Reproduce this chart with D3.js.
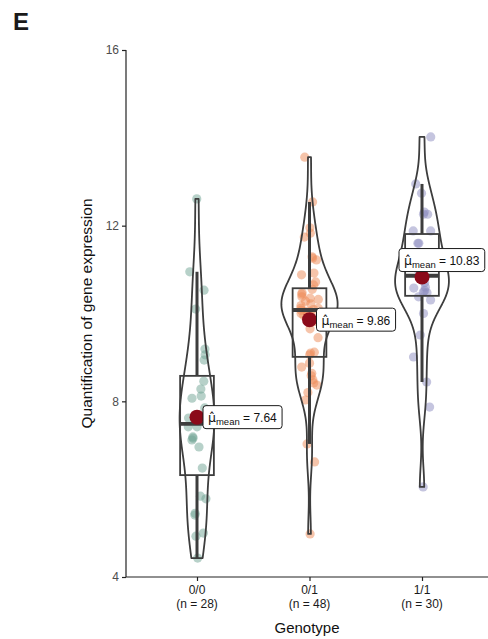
<!DOCTYPE html>
<html>
<head>
<meta charset="utf-8">
<script src="https://cdn.jsdelivr.net/npm/d3@7"></script>
<style>
  body { margin: 0; background: #fff; }
  svg { display: block; font-family: "Liberation Sans", Arial, sans-serif; }
</style>
</head>
<body>
<svg id="chart" width="488" height="639"></svg>
<script>
// Genotype groups and expression values per sample
const genotypes = ["0/0", "0/1", "1/1"];
const groupSizes = [28, 48, 30];

const expr00 = [12.61, 10.95, 10.53, 10.10, 9.19, 9.06, 8.94, 8.46, 8.28, 8.12, 8.07, 7.85,
  7.62, 7.55, 7.42, 7.42, 7.19, 7.16, 7.12, 6.96, 6.48, 5.84, 5.78, 5.45, 5.41, 5.00, 4.93, 4.43];

const expr01 = [13.56, 12.54, 11.95, 11.83, 11.74, 11.29, 11.26, 11.22, 10.92, 10.88, 10.72, 10.65,
  10.55, 10.47, 10.44, 10.38, 10.35, 10.32, 10.28, 10.22, 10.18, 10.12, 10.12, 10.09,
  10.07, 10.05, 10.04, 10.00, 9.95, 9.90, 9.82, 9.65, 9.45, 9.12, 9.10, 9.06,
  8.87, 8.78, 8.64, 8.58, 8.49, 8.42, 8.37, 8.20, 8.03, 7.03, 6.62, 4.98];

const expr11 = [14.02, 12.95, 12.74, 12.31, 12.26, 12.26, 11.88, 11.88,
  11.60, 11.60, 11.35, 11.25, 11.15, 11.00, 10.90, 10.82, 10.70, 10.60, 10.58, 10.52, 10.49, 10.47,
  10.38, 10.31, 10.00, 9.51, 9.01, 8.44, 7.87, 6.05];

const meanValues = [7.64, 9.86, 10.83];
const yTicks = [4, 8, 12, 16];
const pointColors = ["#6fa493", "#ee8a55", "#8c8cc0"];

const groups = [expr00, expr01, expr11];

const svg = d3.select("#chart");
const plotLeft = 126, plotRight = 488, plotTop = 50, plotBottom = 577;

const y = d3.scaleLinear().domain([4, 16]).range([plotBottom, plotTop]);
const x = d3.scalePoint().domain(genotypes).range([197, 422]);
const step = 112.5;

// Axis lines and ticks
const yAxis = d3.axisLeft(y).tickValues(yTicks).tickSize(4).tickPadding(3);
const gy = svg.append("g").attr("transform", `translate(${plotLeft},0)`).call(yAxis);
gy.select(".domain").remove();
gy.selectAll(".tick line").attr("stroke", "#222").attr("stroke-width", 1.2);
gy.selectAll(".tick text").attr("fill", "#4d4d4d").attr("font-size", 12)
  .attr("font-family", "Liberation Sans, Arial, sans-serif");
svg.append("line").attr("x1", plotLeft).attr("x2", plotLeft).attr("y1", plotTop).attr("y2", plotBottom)
  .attr("stroke", "#222").attr("stroke-width", 1.2);

const xAxis = d3.axisBottom(x).tickSize(4).tickFormat(() => "");
const gx = svg.append("g").attr("transform", `translate(0,${plotBottom})`).call(xAxis);
gx.select(".domain").remove();
gx.selectAll(".tick line").attr("stroke", "#222").attr("stroke-width", 1.2);
svg.append("line").attr("x1", plotLeft).attr("x2", plotRight).attr("y1", plotBottom).attr("y2", plotBottom)
  .attr("stroke", "#222").attr("stroke-width", 1.2);

genotypes.forEach((g, i) => {
  const t = svg.append("text").attr("x", x(g)).attr("text-anchor", "middle")
    .attr("font-size", 12).attr("fill", "#1a1a1a");
  t.append("tspan").attr("x", x(g)).attr("y", 594).text(g);
  t.append("tspan").attr("x", x(g)).attr("y", 608).text(`(n = ${groupSizes[i]})`);
});

// Axis titles and panel tag
svg.append("text").attr("x", (plotLeft + plotRight) / 2).attr("y", 633).attr("text-anchor", "middle")
  .attr("font-size", 15).attr("fill", "#111").text("Genotype");
svg.append("text").attr("transform", `translate(92,${(plotTop + plotBottom) / 2}) rotate(-90)`)
  .attr("text-anchor", "middle").attr("font-size", 15.5).attr("fill", "#111")
  .text("Quantification of gene expression");
svg.append("text").attr("x", 13).attr("y", 30).attr("font-size", 24).attr("font-weight", "bold")
  .attr("fill", "#1a1a1a").text("E");

// Statistics helpers
function nrd0(sorted) {
  const sd = d3.deviation(sorted);
  const iqr = d3.quantile(sorted, 0.75) - d3.quantile(sorted, 0.25);
  const lo = Math.min(sd, iqr / 1.34);
  return 0.9 * lo * Math.pow(sorted.length, -0.2);
}
function kde(sorted) {
  const bw = nrd0(sorted);
  const lo = sorted[0], hi = sorted[sorted.length - 1];
  const n = 512, out = [];
  for (let k = 0; k < n; k++) {
    const t = lo + (hi - lo) * k / (n - 1);
    let s = 0;
    for (const v of sorted) { const u = (t - v) / bw; s += Math.exp(-0.5 * u * u); }
    out.push([t, s / (sorted.length * bw * Math.sqrt(2 * Math.PI))]);
  }
  return out;
}

const sortedGroups = groups.map(a => a.slice().sort(d3.ascending));
const densities = sortedGroups.map(kde);
const maxDens = d3.max(densities, d => d3.max(d, p => p[1]));
const halfW = d3.scaleLinear().domain([0, maxDens]).range([0, step * 0.25]);

const lineCol = "#3d3d3d";

// Jittered points
sortedGroups.forEach((vals, i) => {
  const jit = d3.randomUniform.source(d3.randomLcg(0.17 + i * 0.31))(-9, 9);
  svg.append("g").selectAll("circle").data(groups[i]).join("circle")
    .attr("cx", () => x(genotypes[i]) + jit())
    .attr("cy", d => y(d))
    .attr("r", 4.6)
    .attr("fill", pointColors[i])
    .attr("fill-opacity", 0.5);
});

// Box plots
sortedGroups.forEach((vals, i) => {
  const cx = x(genotypes[i]);
  const q1 = d3.quantile(vals, 0.25), med = d3.quantile(vals, 0.5), q3 = d3.quantile(vals, 0.75);
  const iqr = q3 - q1;
  const wHi = d3.max(vals.filter(v => v <= q3 + 1.5 * iqr));
  const wLo = d3.min(vals.filter(v => v >= q1 - 1.5 * iqr));
  const bw = step * 0.3;
  const g = svg.append("g");
  g.append("line").attr("x1", cx).attr("x2", cx).attr("y1", y(q3)).attr("y2", y(wHi))
    .attr("stroke", lineCol).attr("stroke-width", 3);
  g.append("line").attr("x1", cx).attr("x2", cx).attr("y1", y(q1)).attr("y2", y(wLo))
    .attr("stroke", lineCol).attr("stroke-width", 3);
  g.append("rect").attr("x", cx - bw / 2).attr("width", bw)
    .attr("y", y(q3)).attr("height", y(q1) - y(q3))
    .attr("fill", "none").attr("stroke", lineCol).attr("stroke-width", 1.8);
  g.append("line").attr("x1", cx - bw / 2).attr("x2", cx + bw / 2).attr("y1", y(med)).attr("y2", y(med))
    .attr("stroke", lineCol).attr("stroke-width", 3.8);
});

// Violins
densities.forEach((dens, i) => {
  const cx = x(genotypes[i]);
  const pts = dens.map(p => [cx + halfW(p[1]), y(p[0])])
    .concat(dens.slice().reverse().map(p => [cx - halfW(p[1]), y(p[0])]));
  svg.append("path").attr("d", d3.line()(pts) + "Z")
    .attr("fill", "none").attr("stroke", lineCol).attr("stroke-width", 1.8)
    .attr("stroke-linejoin", "round");
});

// Mean markers with labels
const labelLayout = [
  { dx: 6, dy: 0 },
  { dx: 7, dy: 0 },
  { dx: -23, dy: -17 }
];
meanValues.forEach((m, i) => {
  const cx = x(genotypes[i]), cy = y(m);
  const g = svg.append("g");
  const lay = labelLayout[i];
  const lbl = g.append("g");
  const txt = lbl.append("text").attr("font-size", 12).attr("fill", "#111");
  txt.append("tspan").attr("font-family", "DejaVu Sans, sans-serif").attr("font-size", 12.5)
    .text("\u03BC\u0302");
  txt.append("tspan").attr("font-size", 9.5).attr("dy", 3).text("mean");
  txt.append("tspan").attr("dy", -3).text(" = " + m.toFixed(2));
  const bb = txt.node().getBBox();
  const padX = 5, h = 23;
  const w = bb.width + padX * 2;
  const lx = cx + lay.dx, lyc = cy + lay.dy;
  txt.attr("x", lx + padX).attr("y", lyc + 5);

  lbl.insert("rect", "text").attr("x", lx).attr("y", lyc - h / 2)
    .attr("width", w).attr("height", h).attr("rx", 3)
    .attr("fill", "#fff").attr("stroke", "#1a1a1a").attr("stroke-width", 1);

  // connector from the point to the label
  const ex = lay.dy === 0 ? lx : cx + 2;
  const ey = lay.dy === 0 ? cy : lyc + h / 2;
  g.insert("line", ":first-child").attr("x1", cx).attr("y1", cy).attr("x2", ex).attr("y2", ey)
    .attr("stroke", "#111").attr("stroke-width", 1);
  g.insert("circle", "g").attr("cx", cx).attr("cy", cy).attr("r", 7.5).attr("fill", "#8b0a1a");
});
</script>
</body>
</html>
